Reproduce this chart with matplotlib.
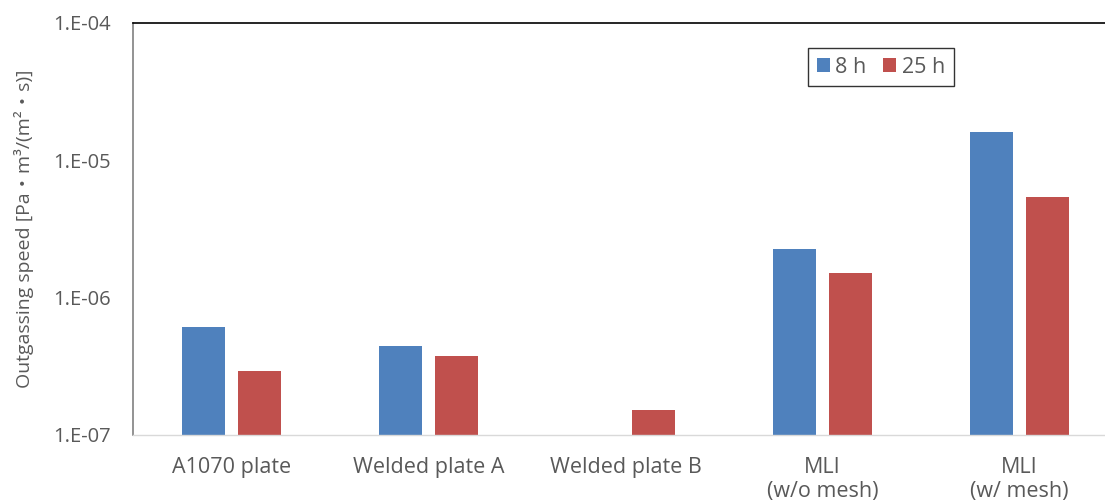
import numpy as np
from matplotlib import pyplot as plt
from matplotlib.ticker import FixedLocator, NullLocator

plt.rcParams['font.family'] = ['Open Sans', 'Noto Sans CJK JP', 'DejaVu Sans']

# sample names and outgassing speed [Pa m3/(m2 s)]
samples = ['A1070 plate', 'Welded plate A', 'Welded plate B', 'MLI\n(w/o mesh)', 'MLI\n(w/ mesh)']
speed_8h = [6.1e-7, 4.45e-7, np.nan, 2.25e-6, 1.6e-5]
speed_25h = [2.9e-7, 3.75e-7, 1.52e-7, 1.5e-6, 5.45e-6]
series_names = ['8 h', '25 h']
ytick_vals = [1e-7, 1e-6, 1e-5, 1e-4]
ytick_text = ['1.E-07', '1.E-06', '1.E-05', '1.E-04']

blue = '#4f81bd'
red = '#c0504d'
grey = '#595959'
fs = 15.5

fig = plt.figure(figsize=(11.05, 5.03), dpi=100)
ax = fig.add_axes([133 / 1105, 1 - 435 / 503, (1105 - 133) / 1105, (435 - 23) / 503])

x = np.arange(len(samples))
w = 0.223
off = 0.142
ax.bar(x - off, speed_8h, w, color=blue, label=series_names[0])
ax.bar(x + off, speed_25h, w, color=red, label=series_names[1])

ax.set_yscale('log')
ax.set_ylim(1e-7, 1e-4)
ax.set_xlim(-0.5, -0.5 + (1105 - 133) / 197)
ax.yaxis.set_major_locator(FixedLocator(ytick_vals))
ax.set_yticklabels(ytick_text)
ax.yaxis.set_minor_locator(NullLocator())
ax.set_xticks(x)
ax.set_xticklabels(samples, linespacing=1.15)
ax.tick_params(axis='both', length=0, colors=grey)
ax.tick_params(axis='x', pad=16, labelsize=fs)
ax.tick_params(axis='y', pad=16, labelsize=14.5)

ax.spines['right'].set_visible(False)
ax.spines['top'].set_color('black')
ax.spines['top'].set_linewidth(1.2)
ax.spines['left'].set_color('#808080')
ax.spines['left'].set_linewidth(1.2)
ax.spines['bottom'].set_color('#d9d9d9')
ax.spines['bottom'].set_linewidth(1)

ax.set_ylabel('Outgassing speed [Pa・m³/(m²・s)]', fontsize=14, color=grey, labelpad=14)

leg = ax.legend(loc='upper left', bbox_to_anchor=((808 - 133) / 972, 1 - (48 - 23) / 412),
                ncol=2, fontsize=fs, frameon=True, fancybox=False,
                handlelength=0.6, handleheight=0.6, handletextpad=0.25, columnspacing=0.8,
                borderpad=0.4, borderaxespad=0)
leg.get_frame().set_edgecolor('black')
leg.get_frame().set_linewidth(1)
for t in leg.get_texts():
    t.set_color(grey)

fig.savefig('out.png', dpi=100)
